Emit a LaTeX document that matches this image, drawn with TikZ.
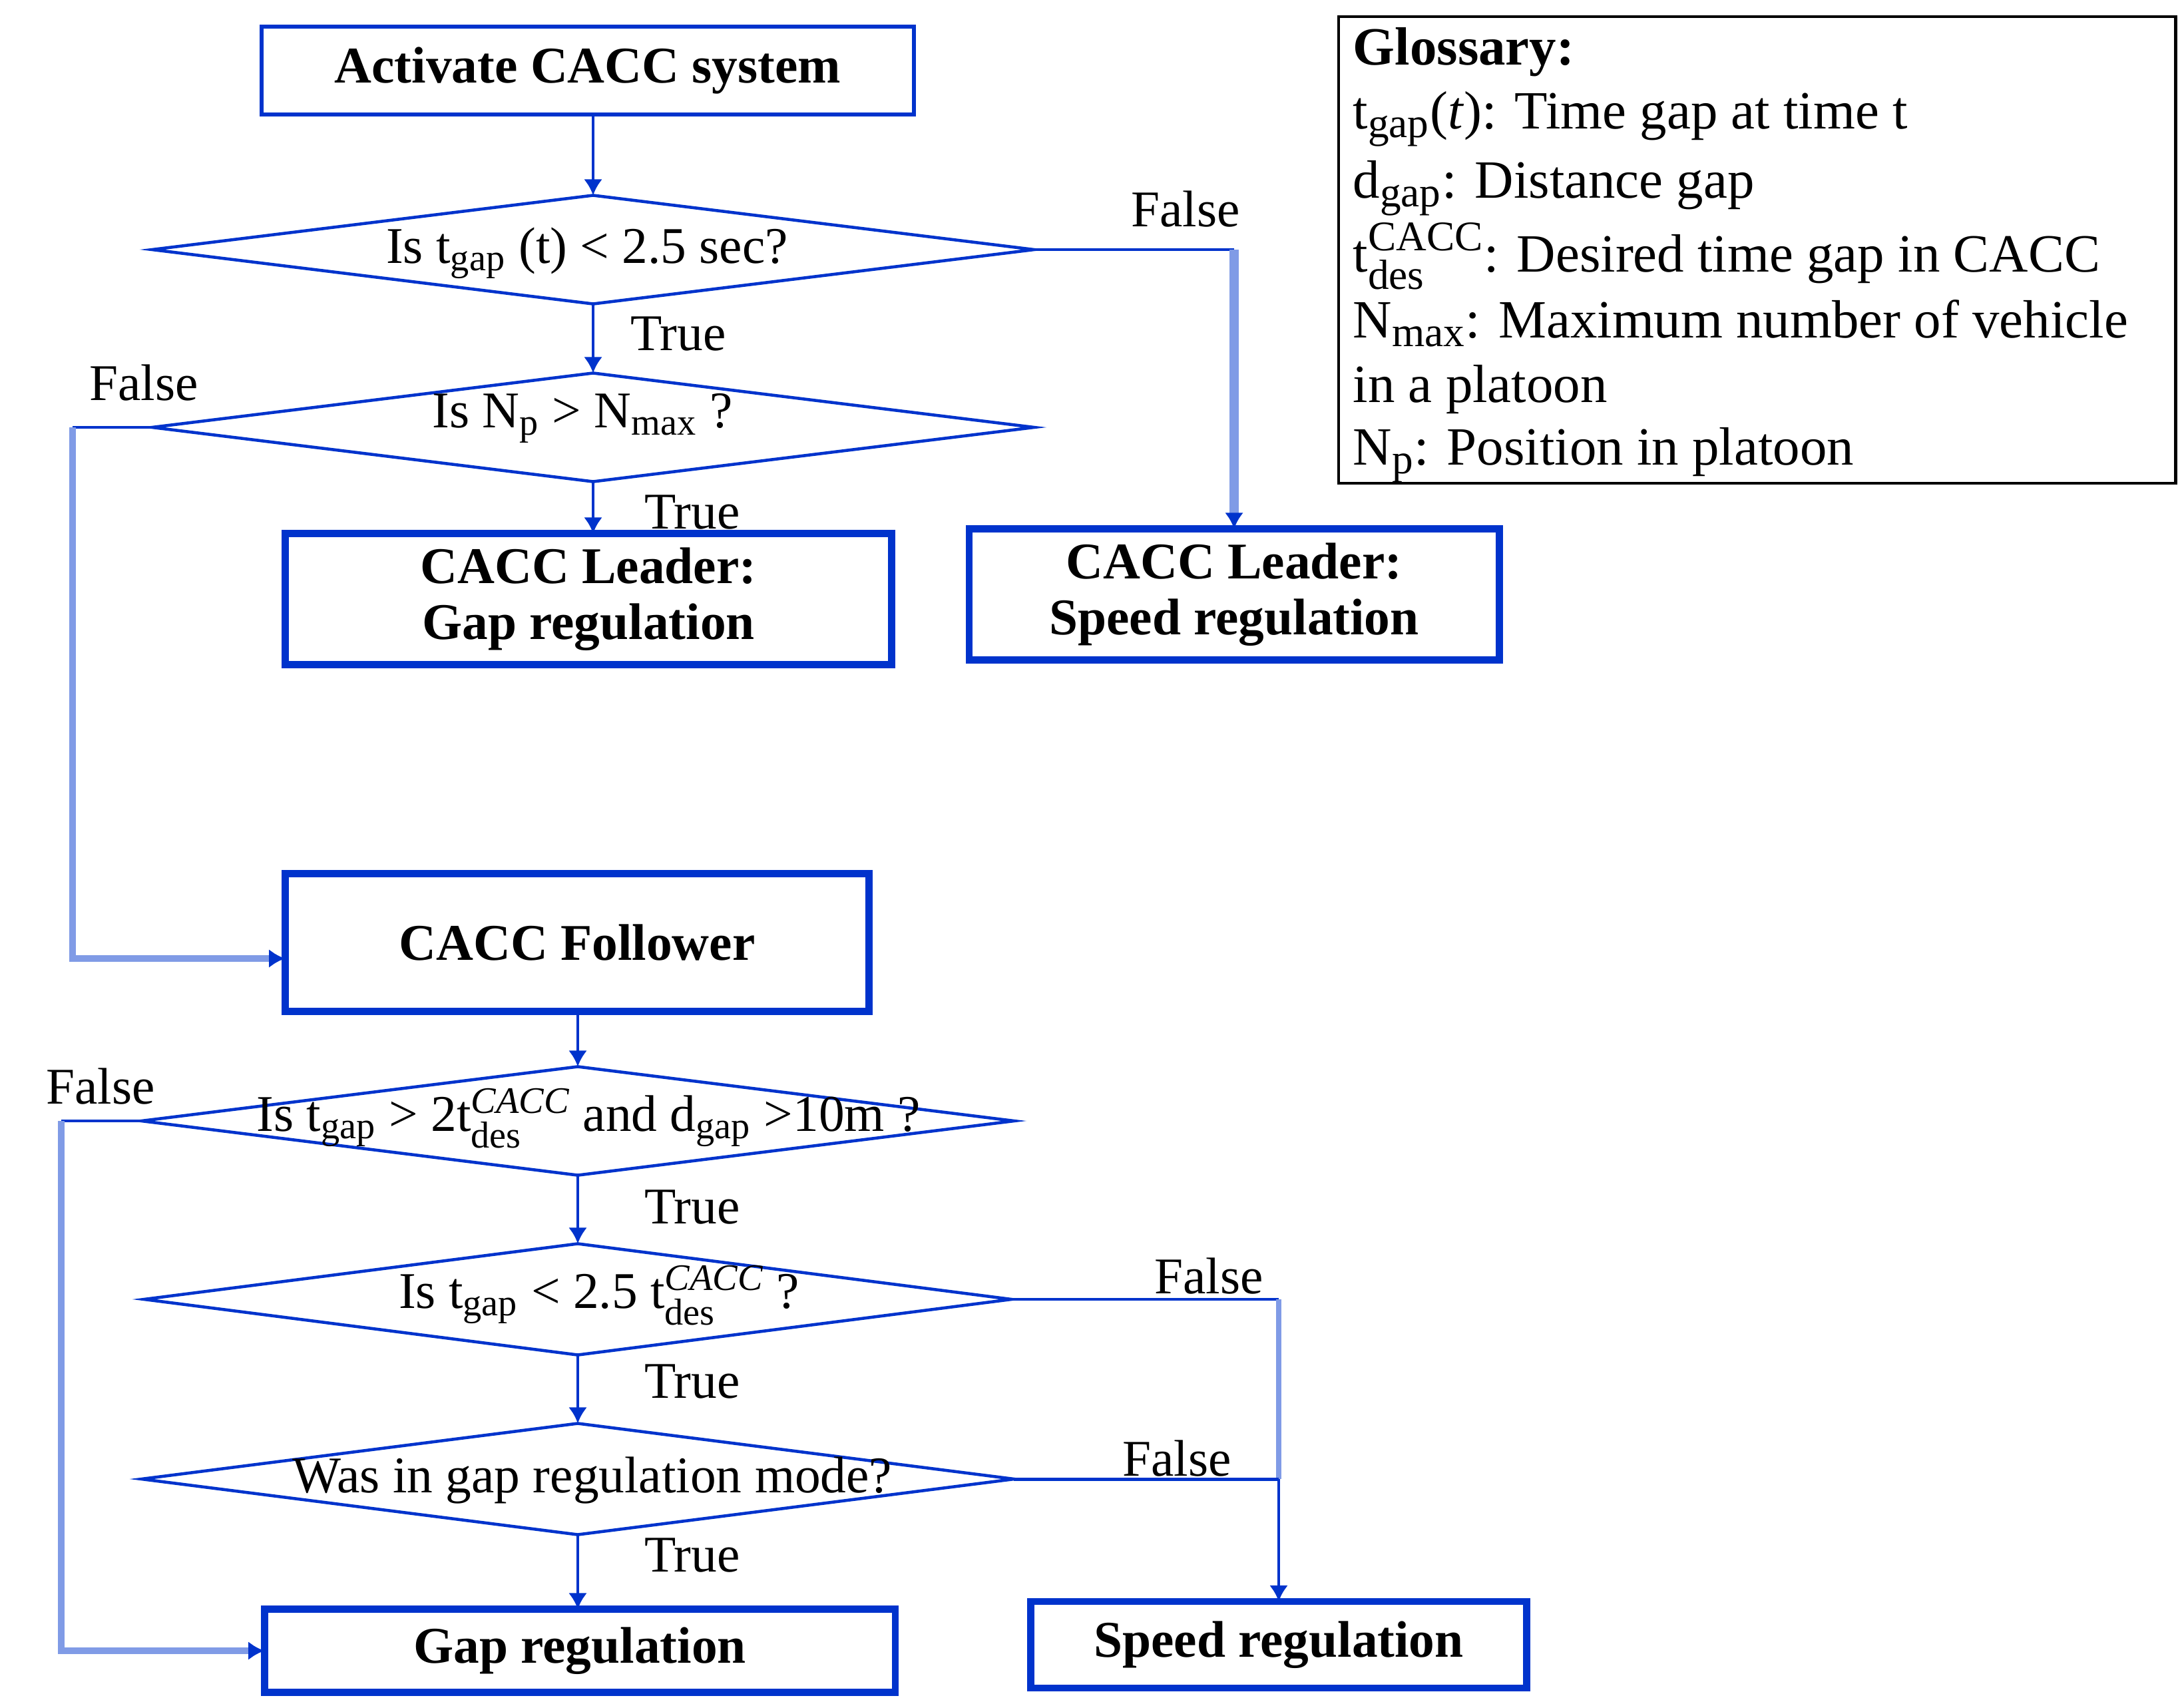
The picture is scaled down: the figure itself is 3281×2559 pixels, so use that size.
\documentclass[tikz,border=0pt]{standalone}
\usepackage{fontspec}
\setmainfont{Liberation Serif}
\usepackage{amsmath}
\usetikzlibrary{shapes.geometric,arrows.meta}
\DeclareMathSizes{22}{22}{16}{12}
\DeclareMathSizes{23}{23}{18}{14}
\definecolor{dblue}{RGB}{0,51,204}
\definecolor{lblue}{RGB}{128,155,230}
\newcommand\fsz{\fontsize{22}{24}\selectfont}
\newcommand\gsz{\fontsize{23}{25}\selectfont}
\begin{document}
\begin{tikzpicture}[x=0.01cm,y=-0.01cm,
  procbox/.style={draw=dblue, line width=3pt, rectangle, inner sep=0pt, outer sep=0pt, align=center, font=\fsz\bfseries},
  decision/.style={draw=dblue, line width=1.3pt, diamond, inner sep=0pt, outer sep=0pt},
  dtext/.style={font=\fsz, inner sep=0pt},
  lbl/.style={font=\fsz, inner sep=0pt},
  gtext/.style={font=\gsz, inner sep=0pt, anchor=base west},
  conn/.style={draw=dblue, line width=1.4pt},
  arr/.style={conn, -{Latex[length=0.24cm,width=0.28cm]}},
  lite/.style={draw=lblue, line width=3pt},
  litearr/.style={lite, -{Latex[length=0.24cm,width=0.28cm,color=dblue]}}]
\useasboundingbox (0,0) rectangle (3281,2559);

% boxes
\node[procbox, line width=1.7pt, minimum width=9.8cm, minimum height=1.32cm] (act) at (883,106) {Activate CACC system};
\node[procbox, minimum width=9.1cm, minimum height=1.97cm] (gld) at (884,900) {CACC Leader:\\Gap regulation};
\node[procbox, minimum width=7.96cm, minimum height=1.97cm] (sld) at (1854,893) {CACC Leader:\\Speed regulation};
\node[procbox, minimum width=8.77cm, minimum height=2.07cm] (fol) at (867,1416) {CACC Follower};
\node[procbox, minimum width=9.47cm, minimum height=1.25cm] (greg) at (871,2480) {Gap regulation};
\node[procbox, minimum width=7.45cm, minimum height=1.30cm] (sreg) at (1921,2471) {Speed regulation};

% decisions
\node[decision, minimum width=13.24cm, minimum height=1.63cm] (d1) at (891,375) {};
\node[dtext] (t1) at (882,380) {Is t$_{\text{gap}}$ (t) < 2.5 sec?};
\node[decision, minimum width=13.24cm, minimum height=1.63cm] (d2) at (891,642) {};
\node[dtext] (t2) at (875,628) {Is N$_{\text{p}}$ > N$_{\text{max}}$ ?};
\node[decision, minimum width=13.1cm, minimum height=1.63cm] (d3) at (868,1684) {};
\node[dtext] (t3) at (884,1680) {Is t$_{\text{gap}}$ > 2t$^{\textit{CACC}}_{\text{des}}$ and d$_{\text{gap}}$ >10m ?};
\node[decision, minimum width=13.02cm, minimum height=1.67cm] (d4) at (868,1952) {};
\node[dtext] (t4) at (900,1946) {Is t$_{\text{gap}}$ < 2.5 t$^{\textit{CACC}}_{\text{des}}$ ?};
\node[decision, minimum width=13.1cm, minimum height=1.67cm] (d5) at (868,2222) {};
\node[dtext] (t5) at (890,2224) {Was in gap regulation mode?};

% glossary
\node[draw=black, line width=1.2pt, minimum width=12.57cm, minimum height=7.01cm, inner sep=0pt] (gl) at (2639.5,375.5) {};
\node[gtext] (g0) at (2032,97) {\textbf{Glossary:}};
\node[gtext] (g1) at (2032,193) {t$_{\text{gap}}$(\textit{t}): Time gap at time t};
\node[gtext] (g2) at (2032,297) {d$_{\text{gap}}$: Distance gap};
\node[gtext] (g3) at (2032,408) {t$^{\text{CACC}}_{\text{des}}$: Desired time gap in CACC};
\node[gtext] (g4) at (2032,507) {N$_{\text{max}}$: Maximum number of vehicle};
\node[gtext] (g5) at (2032,604) {in a platoon};
\node[gtext] (g6) at (2032,698) {N$_{\text{p}}$: Position in platoon};

% labels
\node[lbl] (f1) at (1781,314) {False};
\node[lbl] (tr1) at (1019,502) {True};
\node[lbl] (f2) at (216,575) {False};
\node[lbl] (tr2) at (1040,770) {True};
\node[lbl] (f3) at (151,1632) {False};
\node[lbl] (tr3) at (1040,1814) {True};
\node[lbl] (f4) at (1816,1917) {False};
\node[lbl] (tr4) at (1040,2076) {True};
\node[lbl] (f5) at (1768,2191) {False};
\node[lbl] (tr5) at (1040,2337) {True};

% connectors
\draw[arr] (d1.north |- act.south) -- (d1.north);
\draw[arr] (d1.south) -- (d2.north);
\draw[arr] (d2.south) -- (d2.south |- gld.north);
\coordinate (r1) at (d1.east -| sld.north);
\draw[conn] (d1.east) -- (r1);
\draw[litearr, line width=4pt] (r1) -- (sld.north);

\coordinate (l1) at (109,642);
\coordinate (l2) at (109,1440);
\draw[conn] (d2.west) -- (l1);
\draw[litearr] (l1) -- (l2) -- (l2 -| fol.west);

\draw[arr] (d3.north |- fol.south) -- (d3.north);
\coordinate (l3) at (92,1684);
\draw[conn] (d3.west) -- (l3);
\draw[litearr] (l3) -- (l3 |- greg.west) -- (greg.west);

\draw[arr] (d3.south) -- (d4.north);
\draw[arr] (d4.south) -- (d5.north);
\draw[arr] (d5.south) -- (d5.south |- greg.north);

\coordinate (r4) at (d4.east -| sreg.north);
\coordinate (r5) at (d5.east -| sreg.north);
\draw[conn] (d4.east) -- (r4);
\draw[lite, line width=2.4pt] (r4) -- (r5);
\draw[conn] (d5.east) -- (r5);
\draw[arr] (r5) -- (sreg.north);
\end{tikzpicture}
\end{document}
